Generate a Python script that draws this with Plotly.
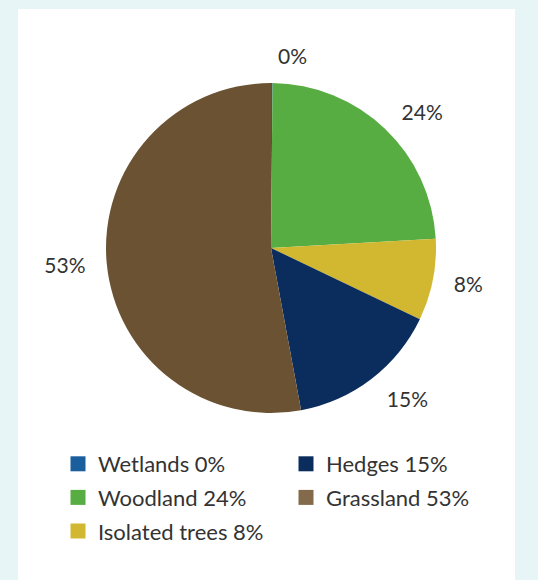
import plotly.graph_objects as go

categories = ["Wetlands", "Woodland", "Isolated trees", "Hedges", "Grassland"]
values = [0.15, 24, 8, 15, 53]
pct_labels = ["0%", "24%", "8%", "15%", "53%"]
slice_colors = ["#1a5e9e", "#58ad42", "#d1b830", "#0a2d5e", "#6b5233"]
legend_colors = ["#1a5e9e", "#58ad42", "#d1b830", "#0a2d5e", "#836a4a"]
legend_col1 = ["Wetlands", "Woodland", "Isolated trees"]
legend_col2 = ["Hedges", "Grassland"]

W, H = 538, 580
FONT = "Lato"
TXT = "#333333"
CX, CY, R = 271, 248, 165
R_LBL = 180

fig = go.Figure()
# visible pie
fig.add_trace(go.Pie(
    labels=categories, values=values,
    textinfo="none",
    marker=dict(colors=slice_colors, line=dict(width=0)),
    sort=False, direction="clockwise", rotation=0,
    showlegend=False, hoverinfo="label+percent",
    domain=dict(x=[(CX - R) / W, (CX + R) / W], y=[1 - (CY + R) / H, 1 - (CY - R) / H]),
))
# transparent larger pie carrying the outside labels
fig.add_trace(go.Pie(
    labels=categories, values=values, text=pct_labels,
    textinfo="text", textposition="outside",
    textfont=dict(family=FONT, size=21, color=TXT),
    marker=dict(colors=["rgba(0,0,0,0)"] * len(categories), line=dict(width=0)),
    sort=False, direction="clockwise", rotation=0,
    showlegend=False, hoverinfo="skip",
    domain=dict(x=[(CX - R_LBL) / W, (CX + R_LBL) / W], y=[1 - (CY + R_LBL) / H, 1 - (CY - R_LBL) / H]),
))

for i, cat in enumerate(categories):
    pct = pct_labels[i]
    leg = "legend" if cat in legend_col1 else "legend2"
    fig.add_trace(go.Scatter(
        x=[None], y=[None], mode="markers", name=f"{cat} {pct}",
        marker=dict(symbol="square", size=15, color=legend_colors[i]),
        legend=leg, legendgroup=cat, showlegend=True, hoverinfo="skip",
    ))

leg_common = dict(
    font=dict(family=FONT, size=22, color=TXT), bgcolor="rgba(0,0,0,0)",
    orientation="v", yanchor="top", xanchor="left", tracegroupgap=2,
    traceorder="grouped", itemclick=False, itemdoubleclick=False,
)
fig.update_layout(
    width=W, height=H, margin=dict(l=0, r=0, t=0, b=0),
    paper_bgcolor="#e8f5f6", plot_bgcolor="rgba(0,0,0,0)",
    xaxis=dict(visible=False), yaxis=dict(visible=False),
    legend=dict(x=58 / W, y=1 - 443 / H, **leg_common),
    legend2=dict(x=286 / W, y=1 - 443 / H, **leg_common),
    shapes=[dict(type="rect", xref="paper", yref="paper", x0=18 / W, x1=515 / W,
                 y0=0, y1=1 - 9 / H, fillcolor="white", line=dict(width=0), layer="below")],
)

fig.write_html("out.html")
